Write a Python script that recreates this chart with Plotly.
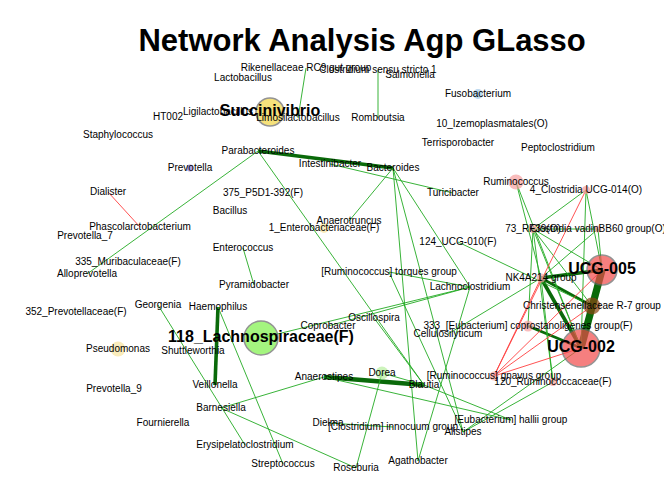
import plotly.graph_objects as go

# node name, x, y (picture coordinates), node size, node colour
names = ["Rikenellaceae RC9 gut group", "Clostridium sensu stricto 1", "Salmonella", "Lactobacillus",
         "Fusobacterium", "Succinivibrio", "HT002", "Ligilactobacillus", "Limosilactobacillus",
         "Romboutsia", "10_Izemoplasmatales(O)", "Terrisporobacter", "Peptoclostridium",
         "Staphylococcus", "Parabacteroides", "Prevotella", "Intestinibacter", "Bacteroides",
         "Ruminococcus", "4_Clostridia UCG-014(O)", "Dialister", "375_P5D1-392(F)", "Turicibacter",
         "Bacillus", "Phascolarctobacterium", "Prevotella_7", "1_Enterobacteriaceae(F)",
         "73_RF39(O)", "Clostridia vadinBB60 group(O)", "Anaerotruncus", "124_UCG-010(F)",
         "335_Muribaculaceae(F)", "Enterococcus", "Alloprevotella", "UCG-005",
         "[Ruminococcus] torques group", "Pyramidobacter", "NK4A214 group", "Lachnoclostridium",
         "352_Prevotellaceae(F)", "Georgenia", "Haemophilus", "Christensenellaceae R-7 group",
         "333_[Eubacterium] coprostanoligenes group(F)", "Oscillospira", "Coprobacter",
         "Cellulosilyticum", "118_Lachnospiraceae(F)", "UCG-002", "Pseudomonas", "Shuttleworthia",
         "[Ruminococcus] gnavus group", "120_Ruminococcaceae(F)", "Dorea", "Anaerostipes", "Blautia",
         "Prevotella_9", "Veillonella", "Barnesiella", "[Eubacterium] hallii group", "Fournierella",
         "Dielma", "[Clostridium] innocuum group", "Alistipes", "Erysipelatoclostridium",
         "Streptococcus", "Roseburia", "Agathobacter"]
xs = [298, 370, 402, 235, 470, 262, 160, 210, 290, 370, 484, 450, 550, 110, 250, 182, 322, 385,
      508, 578, 100, 255, 445, 222, 132, 77, 316, 525, 590, 341, 450, 120, 235, 79, 594, 381, 246,
      533, 462, 68, 150, 210, 584, 520, 366, 320, 440, 253, 573, 110, 185, 486, 545, 374, 316, 416,
      106, 207, 213, 503, 155, 320, 385, 455, 237, 275, 348, 410]
ys = [60, 62, 67, 70, 86, 104, 109, 104, 110, 110, 116, 135, 140, 127, 143, 160, 156, 160, 174,
      182, 184, 185, 185, 203, 219, 228, 220, 221, 221, 213, 234, 254, 240, 266, 262, 264, 277,
      270, 279, 304, 297, 299, 298, 318, 310, 318, 326, 330, 340, 341, 343, 368, 374, 365, 369,
      377, 381, 377, 400, 412, 415, 415, 419, 424, 437, 456, 460, 453]
big = ["Succinivibrio", "UCG-005", "UCG-002", "118_Lachnospiraceae(F)"]
node_size = {"Succinivibrio": 28, "UCG-005": 30, "UCG-002": 38, "118_Lachnospiraceae(F)": 34,
             "Christensenellaceae R-7 group": 17, "Ruminococcus": 15, "Pseudomonas": 15,
             "Dorea": 13, "1_Enterobacteriaceae(F)": 10, "Fusobacterium": 10, "Prevotella": 7,
             "NK4A214 group": 9, "333_[Eubacterium] coprostanoligenes group(F)": 11,
             "[Ruminococcus] gnavus group": 9, "4_Clostridia UCG-014(O)": 8,
             "Clostridia vadinBB60 group(O)": 7, "73_RF39(O)": 8, "120_Ruminococcaceae(F)": 8}
node_col = {"Succinivibrio": "#f2d544", "UCG-005": "#f24a4a", "UCG-002": "#f24a4a",
            "118_Lachnospiraceae(F)": "#7ef24a", "Christensenellaceae R-7 group": "#8b4513",
            "Ruminococcus": "#f7a0a0", "Pseudomonas": "#f7e4a0", "Dorea": "#b8f0a0",
            "1_Enterobacteriaceae(F)": "#f7e4a0", "Fusobacterium": "#a0c8e8", "Prevotella": "#8a7ad8"}

# edges: (from, to, width, sign)
edges = [
    ("Parabacteroides", "Bacteroides", 4, "+"), ("Haemophilus", "Veillonella", 4, "+"),
    ("Anaerostipes", "Blautia", 5, "+"), ("UCG-005", "UCG-002", 8, "+"),
    ("UCG-005", "Christensenellaceae R-7 group", 5, "+"), ("Christensenellaceae R-7 group", "UCG-002", 5, "+"),
    ("NK4A214 group", "UCG-005", 4, "+"), ("NK4A214 group", "UCG-002", 4, "+"),
    ("NK4A214 group", "Christensenellaceae R-7 group", 3, "+"),
    ("333_[Eubacterium] coprostanoligenes group(F)", "UCG-002", 3, "+"),
    ("Dialister", "Phascolarctobacterium", 1, "-"),
    ("Clostridium sensu stricto 1", "Romboutsia", 1, "+"), ("Rikenellaceae RC9 gut group", "Limosilactobacillus", 1, "+"),
    ("Parabacteroides", "Alloprevotella", 1, "+"), ("Parabacteroides", "Blautia", 1, "+"),
    ("Bacteroides", "Anaerotruncus", 1, "+"), ("Bacteroides", "Lachnoclostridium", 1, "+"),
    ("Bacteroides", "Alistipes", 1, "+"), ("Bacteroides", "Agathobacter", 1, "+"),
    ("Intestinibacter", "Turicibacter", 1, "+"), ("118_Lachnospiraceae(F)", "Lachnoclostridium", 1, "+"),
    ("Coprobacter", "Lachnoclostridium", 1, "+"), ("Haemophilus", "Streptococcus", 1, "+"),
    ("Georgenia", "Erysipelatoclostridium", 1, "+"), ("[Ruminococcus] torques group", "Lachnoclostridium", 1, "+"),
    ("[Ruminococcus] torques group", "Alistipes", 1, "+"), ("Lachnoclostridium", "Agathobacter", 1, "+"),
    ("Dorea", "Roseburia", 1, "+"), ("Dorea", "Blautia", 1, "+"),
    ("Anaerostipes", "[Eubacterium] hallii group", 1, "+"), ("Blautia", "[Eubacterium] hallii group", 1, "+"),
    ("Dielma", "[Clostridium] innocuum group", 1, "+"), ("Anaerostipes", "Barnesiella", 1, "+"),
    ("Barnesiella", "Roseburia", 1, "+"), ("Enterococcus", "Pyramidobacter", 1, "+"),
    ("Alistipes", "120_Ruminococcaceae(F)", 1, "+"), ("Alistipes", "UCG-002", 1, "+"),
    ("Ruminococcus", "UCG-002", 1, "+"), ("Ruminococcus", "NK4A214 group", 1, "+"),
    ("4_Clostridia UCG-014(O)", "UCG-005", 1, "+"), ("4_Clostridia UCG-014(O)", "UCG-002", 1, "+"),
    ("4_Clostridia UCG-014(O)", "73_RF39(O)", 1, "+"), ("73_RF39(O)", "UCG-005", 1, "+"),
    ("73_RF39(O)", "UCG-002", 1, "+"), ("73_RF39(O)", "Christensenellaceae R-7 group", 1, "+"),
    ("73_RF39(O)", "Clostridia vadinBB60 group(O)", 1, "+"), ("Clostridia vadinBB60 group(O)", "UCG-005", 1, "+"),
    ("Clostridia vadinBB60 group(O)", "NK4A214 group", 1, "+"), ("124_UCG-010(F)", "Christensenellaceae R-7 group", 1, "+"),
    ("120_Ruminococcaceae(F)", "NK4A214 group", 1, "+"), ("120_Ruminococcaceae(F)", "73_RF39(O)", 1, "+"),
    ("333_[Eubacterium] coprostanoligenes group(F)", "73_RF39(O)", 1, "+"),
    ("[Ruminococcus] gnavus group", "UCG-005", 1, "-"), ("[Ruminococcus] gnavus group", "4_Clostridia UCG-014(O)", 1, "-"),
    ("[Ruminococcus] gnavus group", "Christensenellaceae R-7 group", 1, "-"),
    ("[Ruminococcus] gnavus group", "NK4A214 group", 1, "-"), ("[Ruminococcus] gnavus group", "UCG-002", 1, "-"),
    ("Cellulosilyticum", "NK4A214 group", 1, "+"), ("Oscillospira", "Blautia", 1, "+"),
]

pos = {n: (x, y) for n, x, y in zip(names, xs, ys)}
fig = go.Figure()
for a, b, w, s in edges:
    (x0, y0), (x1, y1) = pos[a], pos[b]
    col = "#ff4040" if s == "-" else ("#0a6a0a" if w >= 3 else "#22aa22")
    fig.add_trace(go.Scatter(x=[x0, x1], y=[y0, y1], mode="lines",
                             line=dict(color=col, width=w * 0.9), hoverinfo="skip"))

sizes = [node_size.get(n, 0) for n in names]
cols = [node_col.get(n, "#f7a0a0") for n in names]
fig.add_trace(go.Scatter(x=xs, y=ys, mode="markers",
                         marker=dict(size=sizes, color=cols,
                                     line=dict(color=["#666" if n in big else "rgba(0,0,0,0)" for n in names], width=1.5))))
fig.add_trace(go.Scatter(x=xs, y=ys, mode="text", text=[f"<b>{n}</b>" if n in big else n for n in names],
                         textfont=dict(family="Liberation Sans", color="black",
                                       size=[16 if n in big else 10 for n in names])))

fig.update_layout(
    width=672, height=480, showlegend=False, plot_bgcolor="white", paper_bgcolor="white",
    margin=dict(l=0, r=0, t=0, b=0),
    xaxis=dict(range=[0, 672], visible=False),
    yaxis=dict(range=[480, 0], visible=False),
    title=dict(text="<b>Network Analysis Agp GLasso</b>", x=0.527, y=0.955, xanchor="center",
               font=dict(family="Liberation Sans", size=31, color="black")),
)
fig.write_html("out.html")
